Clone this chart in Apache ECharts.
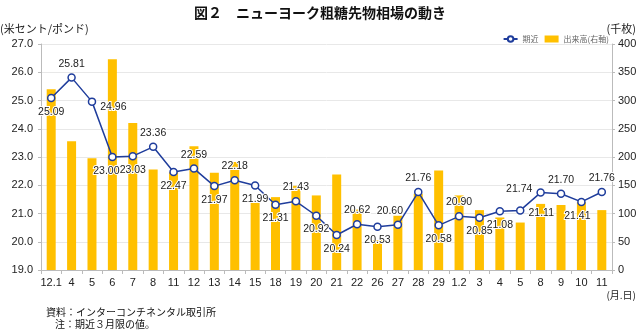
<!DOCTYPE html>
<html>
<head>
<meta charset="utf-8">
<script src="https://cdn.jsdelivr.net/npm/echarts@6/dist/echarts.min.js"></script>
<style>
html,body{margin:0;padding:0;background:#fff;}
#c{width:640px;height:332px;}
</style>
</head>
<body>
<div id="c"></div>
<script>
const categories = ['12.1','4','5','6','7','8','11','12','13','14','15','18','19','20','21','22','26','27','28','29','1.2','3','4','5','8','9','10','11'];
const priceValues = [25.09,25.81,24.96,23.00,23.03,23.36,22.47,22.59,21.97,22.18,21.99,21.31,21.43,20.92,20.24,20.62,20.53,20.60,21.76,20.58,20.90,20.85,21.08,21.11,21.74,21.70,21.41,21.76];
const volumeValues = [320,228,198,373,260,178,173,219,172,191,119,129,149,132,169,107,53,96,135,176,132,106,93,84,117,115,120,106];
const leftTicks = {min:19, max:27, interval:1};
const rightTicks = {min:0, max:400, interval:50};
const labelPos = ['bottom','top','right','bottom','bottom','top','bottom','top','bottom','top','bottom','bottom','top','bottom','bottom','top','bottom','top','top','bottom','top','bottom','bottom','right','left','top','bottom','top'];

const JP = '"Noto Sans CJK JP", sans-serif';
const NUM = '"Liberation Sans", Arial, sans-serif';

const chart = echarts.init(document.getElementById('c'), null, {renderer:'canvas'});

const lineData = priceValues.map((v,i)=>{
  const p = labelPos[i];
  const lab = {position:p};
  if (i===3) lab.offset=[-6,0];
  if (i===17) lab.offset=[-8,0];
  if (i===2) lab.offset=[0,5];
  if (i===23) lab.offset=[0,3];
  if (i===24) lab.offset=[0,-3];
  if (i===26) lab.offset=[-4,0];
  return {value:v, label:lab};
});

chart.setOption({
  animation:false,
  textStyle:{fontFamily:NUM},
  title:{
    text:'図２　ニューヨーク粗糖先物相場の動き',
    left:'center', top:1,
    textStyle:{fontFamily:JP, fontSize:14, fontWeight:'bold', color:'#111'}
  },
  legend:{
    right:26, top:30,
    itemWidth:14, itemHeight:7, itemGap:6,
    textStyle:{fontFamily:JP, fontSize:8, color:'#666'},
    data:[{name:'期近'},{name:'出来高(右軸)', icon:'rect'}]
  },
  graphic:[
    {type:'text', left:0, top:23, style:{text:'(米セント/ポンド)', font:'11px "Noto Sans CJK JP"', fill:'#222'}},
    {type:'text', right:4, top:23, style:{text:'(千枚)', font:'11px "Noto Sans CJK JP"', fill:'#222'}},
    {type:'text', right:4, top:290, style:{text:'(月.日)', font:'10px "Noto Sans CJK JP"', fill:'#222'}},
    {type:'text', left:46, top:307, style:{text:'資料：インターコンチネンタル取引所', font:'10px "Noto Sans CJK JP"', fill:'#111'}},
    {type:'text', left:55, top:319, style:{text:'注：期近３月限の値。', font:'10px "Noto Sans CJK JP"', fill:'#111'}}
  ],
  grid:{left:41, right:28, top:44, bottom:62},
  xAxis:{
    type:'category', data:categories, boundaryGap:true,
    axisLine:{lineStyle:{color:'#bbb', width:1}},
    axisTick:{show:true, interval:0, length:4, lineStyle:{color:'#bbb'}},
    axisLabel:{interval:0, fontSize:11, color:'#222', margin:7, fontFamily:NUM}
  },
  yAxis:[
    {type:'value', min:leftTicks.min, max:leftTicks.max, interval:leftTicks.interval,
     axisLine:{show:true, lineStyle:{color:'#bbb'}},
     axisTick:{show:true, length:3, lineStyle:{color:'#bbb'}},
     axisLabel:{fontSize:11, color:'#222', margin:8, formatter:v=>v.toFixed(1), fontFamily:NUM},
     splitLine:{show:true, lineStyle:{color:'#e8e8e8'}}},
    {type:'value', min:rightTicks.min, max:rightTicks.max, interval:rightTicks.interval,
     axisLine:{show:true, lineStyle:{color:'#bbb'}},
     axisTick:{show:true, length:3, lineStyle:{color:'#bbb'}},
     axisLabel:{fontSize:11, color:'#222', margin:6, fontFamily:NUM},
     splitLine:{show:false}}
  ],
  series:[
    {name:'出来高(右軸)', type:'bar', yAxisIndex:1, data:volumeValues, barWidth:9,
     itemStyle:{color:'#FFC000'}, z:1},
    {name:'期近', type:'line', yAxisIndex:0, data:lineData,
     symbol:'circle', symbolSize:7, showAllSymbol:true,
     lineStyle:{color:'#1f3d9c', width:1.5},
     itemStyle:{color:'#fff', borderColor:'#1f3d9c', borderWidth:1.5},
     label:{show:true, fontSize:10.5, color:'#222', distance:4, fontFamily:NUM,
            textBorderColor:'#fff', textBorderWidth:2, formatter:p=>p.value.toFixed(2)},
     z:3}
  ]
});
</script>
</body>
</html>
